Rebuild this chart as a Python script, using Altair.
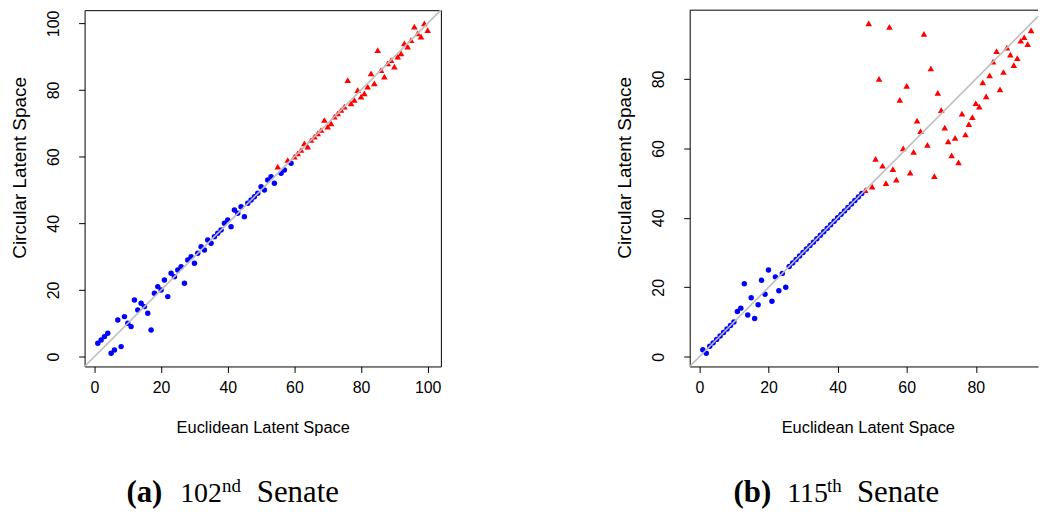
import altair as alt
import pandas as pd

SANS = "Liberation Sans"
SERIF = "Liberation Serif"

# ---------------- (a) 102nd Senate ----------------
a_blue_x = [1, 2, 3, 4, 5, 6, 7, 8, 9, 10, 11, 12, 13, 14, 15, 16, 17, 18, 19, 20,
            21, 22, 23, 24, 25, 26, 27, 28, 29, 30, 31, 32, 33, 34, 35, 36, 37, 38, 39, 40,
            41, 42, 43, 44, 45, 46, 47, 48, 49, 50, 51, 52, 53, 54, 56, 57, 59]
a_blue_y = [4, 5, 6, 7, 1, 2, 11, 3, 12, 10, 9, 17, 14, 16, 15, 13, 8, 19, 21, 20,
            23, 18, 25, 24, 26, 27, 22, 29, 30, 28, 31, 33, 32, 35, 34, 36, 37, 38, 40, 41,
            39, 44, 43, 45, 42, 46, 47, 48, 49, 51, 50, 53, 54, 52, 55, 56, 58]
a_red_x = [55, 58, 60, 61, 62, 63, 64, 65, 66, 67, 68, 69, 70, 71, 72, 73, 74, 75, 76, 77,
           78, 79, 80, 81, 82, 83, 84, 85, 86, 87, 88, 89, 90, 91, 92, 93, 94, 95, 96, 97,
           98, 99, 100]
a_red_y = [57, 59, 60, 61, 62, 64, 63, 65, 66, 67, 68, 71, 69, 70, 72, 73, 74, 75, 83, 76,
           77, 80, 78, 79, 81, 85, 82, 92, 86, 84, 88, 89, 87, 90, 91, 94, 93, 95, 99, 97,
           96, 100, 98]
a_domain = [-2.96, 103.96]
a_ticks = [0, 20, 40, 60, 80, 100]

# ---------------- (b) 115th Senate ----------------
b_blue_x = [1, 2, 3, 4, 5, 6, 7, 8, 9, 10, 11, 12, 13, 14, 15, 16, 17, 18, 19, 20,
            21, 22, 23, 24, 25, 26, 27, 28, 29, 30, 31, 32, 33, 34, 35, 36, 37, 38, 39, 40,
            41, 42, 43, 44, 45, 46, 47]
b_blue_y = [2, 1, 3, 4, 5, 6, 7, 8, 9, 10, 13, 14, 21, 12, 17, 11, 15, 22, 18, 25,
            16, 23, 19, 24, 20, 26, 27, 28, 29, 30, 31, 32, 33, 34, 35, 36, 37, 38, 39, 40,
            41, 42, 43, 44, 45, 46, 47]
b_red_x = [48, 49, 50, 51, 52, 53, 54, 55, 56, 57, 58, 59, 60, 61, 62, 63, 64, 65, 66, 67,
           68, 69, 70, 71, 72, 73, 74, 75, 76, 77, 78, 79, 80, 81, 82, 83, 84, 85, 86, 87,
           88, 89, 90, 91, 92, 93, 94, 95, 96]
b_red_y = [48, 96, 49, 57, 80, 55, 50, 95, 54, 51, 74, 60, 78, 53, 59, 68, 65, 93, 61, 83,
           52, 76, 71, 66, 62, 58, 63, 56, 70, 64, 67, 69, 73, 72, 79, 75, 81, 85, 88, 77,
           82, 89, 87, 84, 86, 91, 92, 90, 94]
b_domain_x = [-2.8, 98.0]   # right side of the panel is cut off in the figure
b_domain_y = [-2.8, 99.8]
b_ticks_x = [0, 20, 40, 60, 80]
b_ticks_y = [0, 20, 40, 60, 80]

caption_a = ["(a)", "102", "nd", "Senate"]
caption_b = ["(b)", "115", "th", "Senate"]

X_TITLE = "Euclidean Latent Space"
Y_TITLE = "Circular Latent Space"


def make_panel(bx, by, rx, ry, dom_x, dom_y, xticks, yticks, w, h, framed,
               title_x, caption, cap_pos):
    blue = pd.DataFrame({"x": bx, "y": by})
    red = pd.DataFrame({"x": rx, "y": ry})
    lo = max(dom_x[0], dom_y[0])
    hi = min(dom_x[1], dom_y[1])
    diag = pd.DataFrame({"x": [lo, hi], "y": [lo, hi]})

    xs = alt.Scale(domain=dom_x, nice=False, zero=False)
    ys = alt.Scale(domain=dom_y, nice=False, zero=False)
    xaxis = alt.Axis(values=xticks, title=X_TITLE, grid=False, domain=not framed,
                     domainColor="black", domainWidth=1, tickSize=6, tickColor="black",
                     tickWidth=1, labelFont=SANS, labelFontSize=16, labelColor="black",
                     labelPadding=15, labelBaseline="middle", labelFlush=False,
                     labelOverlap=False, titleFont=SANS, titleFontSize=16.5,
                     titleFontWeight="normal", titleColor="black", titleX=title_x,
                     titleY=61, titleBaseline="middle", titleAlign="center")
    yaxis = alt.Axis(values=yticks, title=Y_TITLE, grid=False, domain=not framed,
                     domainColor="black", domainWidth=1, tickSize=6, tickColor="black",
                     tickWidth=1, labelFont=SANS, labelFontSize=16, labelColor="black",
                     labelAngle=270, labelAlign="center", labelBaseline="middle",
                     labelPadding=25, labelFlush=False, labelOverlap=False,
                     titleFont=SANS, titleFontSize=19, titleFontWeight="normal",
                     titleColor="black", titleAngle=270, titleX=-65, titleY=158,
                     titleBaseline="middle", titleAlign="center")

    enc = dict(x=alt.X("x:Q", scale=xs, axis=xaxis), y=alt.Y("y:Q", scale=ys, axis=yaxis))

    pts_blue = alt.Chart(blue).mark_circle(size=30, color="#0000FF", opacity=1).encode(**enc)
    pts_red = alt.Chart(red).mark_point(shape="triangle-up", filled=True, size=44,
                                        color="#FF0000", opacity=1).encode(**enc)
    line = alt.Chart(diag).mark_line(color="#BEBEBE", strokeWidth=1.6).encode(**enc)

    layers = [pts_blue, pts_red, line]
    if not framed:
        top = alt.Chart(alt.Data(values=[{}])).mark_rule(color="black", strokeWidth=1).encode(
            x=alt.value(0), x2=alt.value(w), y=alt.value(0))
        layers.append(top)

    sizes = [31, 28, 19, 31]
    weights = ["bold", "normal", "normal", "normal"]
    for txt, (px, py), fs, fw in zip(caption, cap_pos, sizes, weights):
        layers.append(
            alt.Chart(alt.Data(values=[{}])).mark_text(
                text=txt, font=SERIF, fontSize=fs, fontWeight=fw, align="left",
                baseline="alphabetic", color="black").encode(x=alt.value(px), y=alt.value(py)))

    view = alt.ViewBackground(stroke="black" if framed else "transparent", strokeWidth=1,
                              fill="white")
    return alt.layer(*layers).properties(width=w, height=h, view=view)


WA, HA = 358, 358
WB = 350

panel_a = make_panel(a_blue_x, a_blue_y, a_red_x, a_red_y, a_domain, a_domain,
                     a_ticks, a_ticks, WA, HA, True, WA / 2, caption_a,
                     [(42, 494), (96, 494), (138, 484), (173, 494)])
panel_b = make_panel(b_blue_x, b_blue_y, b_red_x, b_red_y, b_domain_x, b_domain_y,
                     b_ticks_x, b_ticks_y, WB, HA, False, 179, caption_b,
                     [(44, 494), (98, 494), (138, 484), (168, 494)])

chart = alt.hconcat(panel_a, panel_b, spacing=250, bounds="flush").properties(
    padding={"left": 10, "top": 5, "right": 0, "bottom": 0},
    background="white",
).configure_view(strokeWidth=1)

chart.save("out.html", embed_options={"renderer": "svg", "actions": False})
